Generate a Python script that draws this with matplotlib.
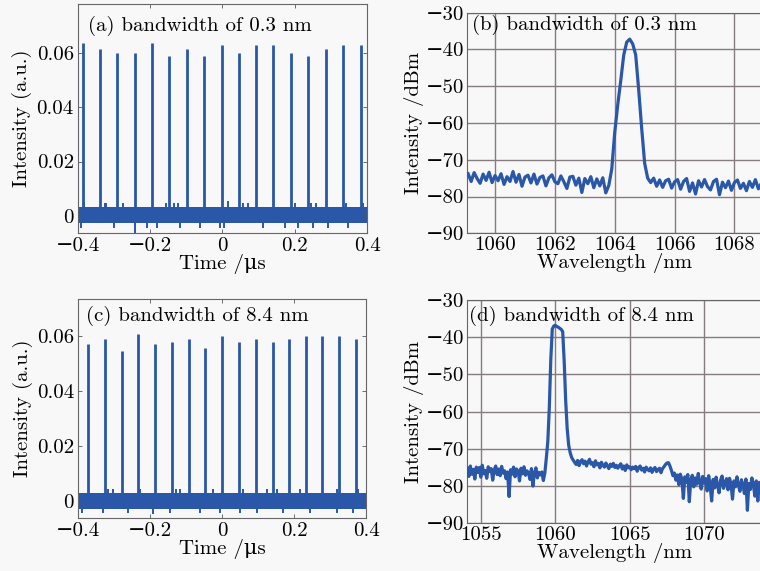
import numpy as np
import matplotlib
matplotlib.use('Agg')
import matplotlib.pyplot as plt

# ---- time traces (pulse trains) ----
# (a) bandwidth 0.3 nm
pulse_t_a = [-0.387, -0.340, -0.292, -0.243, -0.194, -0.147, -0.098, -0.050, -0.002,
             0.045, 0.092, 0.140, 0.189, 0.237, 0.286, 0.334, 0.382]
pulse_h_a = [0.0638, 0.0615, 0.0600, 0.0600, 0.0638, 0.0588, 0.0615, 0.0588, 0.0628,
             0.0598, 0.0628, 0.0628, 0.0600, 0.0588, 0.0615, 0.0628, 0.0628]
noise_band_a = [-0.0025, 0.0034]
spike_up_t_a = [-0.384, -0.326, -0.322, -0.276, -0.156, -0.134, -0.122, 0.014, 0.057,
                0.071, 0.200, 0.246, 0.258, 0.343, 0.389]
spike_up_h_a = [0.0050, 0.0048, 0.0047, 0.0048, 0.0047, 0.0048, 0.0046, 0.0056, 0.0048,
                0.0046, 0.0048, 0.0047, 0.0049, 0.0047, 0.0048]
spike_dn_t_a = [-0.391, -0.301, -0.243, -0.209, -0.182, -0.117, -0.062, -0.007, 0.004,
                0.113, 0.173, 0.209, 0.251, 0.292, 0.348]
spike_dn_h_a = [-0.0045, -0.0044, -0.0064, -0.0044, -0.0045, -0.0046, -0.0044, -0.0045,
                -0.0043, -0.0044, -0.0045, -0.0044, -0.0046, -0.0044, -0.0045]

# (c) bandwidth 8.4 nm
pulse_t_c = [-0.372, -0.326, -0.279, -0.233, -0.186, -0.140, -0.093, -0.047, 0.000,
             0.047, 0.093, 0.140, 0.186, 0.233, 0.279, 0.326, 0.372]
pulse_h_c = [0.0569, 0.0590, 0.0546, 0.0607, 0.0569, 0.0578, 0.0590, 0.0556, 0.0600,
             0.0578, 0.0590, 0.0578, 0.0590, 0.0598, 0.0598, 0.0598, 0.0590]
noise_band_c = [-0.0030, 0.0028]
spike_up_t_c = [-0.317, -0.303, -0.228, -0.128, -0.117, -0.025, 0.059, 0.124, 0.152,
                0.217, 0.319, 0.379]
spike_up_h_c = [0.0044, 0.0042, 0.0045, 0.0043, 0.0044, 0.0042, 0.0045, 0.0043, 0.0044,
                0.0042, 0.0045, 0.0044]
spike_dn_t_c = [-0.391, -0.330, -0.261, -0.191, -0.145, -0.062, -0.006, 0.050, 0.096,
                0.170, 0.244, 0.319, 0.365]
spike_dn_h_c = [-0.0043, -0.0045, -0.0044, -0.0046, -0.0043, -0.0044, -0.0045, -0.0043,
                -0.0044, -0.0045, -0.0043, -0.0044, -0.0043]

# ---- optical spectra ----
# (b) 0.1 nm step, 1059.1 ... 1068.9 nm
wl_b_range = [1059.1, 1068.9]
spec_b = [
    -73.8, -75.9, -73.5, -75.1, -76.4, -73.9, -75.6, -73.4, -76.2, -74.3,
    -75.7, -73.8, -76.7, -74.6, -75.9, -73.2, -76.1, -74.0, -77.2, -74.7,
    -74.2, -76.3, -73.9, -76.6, -74.8, -74.4, -77.1, -74.9, -74.1, -76.0,
    -76.5, -74.4, -76.0, -77.8, -74.7, -74.5, -76.9, -75.0, -78.9, -75.1,
    -76.5, -74.6, -77.6, -75.2, -77.1, -74.9,
    -79.0, -77.0, -72.5, -62.5, -55.0, -48.5, -41.5, -38.0, -37.2, -38.5,
    -41.5, -51.0, -61.5, -71.0, -75.0, -76.2,
    -75.0, -77.2, -75.5, -77.5, -75.7, -75.3, -77.7, -76.0,
    -75.4, -78.0, -75.9, -75.1, -78.6, -76.3, -79.3, -75.7, -77.4, -75.4,
    -77.3, -78.2, -75.9, -75.3, -79.5, -76.1, -77.6, -75.8, -78.3, -76.2,
    -75.5, -77.8, -76.4, -78.4, -75.9, -77.5, -75.4, -77.9, -76.4,
]

# (d) 0.1 nm step, 1054.1 ... 1073.9 nm
wl_d_range = [1054.1, 1073.9]
spec_d = [
    -75.2, -77.4, -74.6, -76.8, -75.5, -78.1, -74.9, -76.3, -75.0, -77.6,
    -74.4, -76.7, -75.8, -77.9, -74.8, -76.1, -75.3, -78.4, -75.7, -74.6,
    -76.9, -75.4, -77.2, -74.7, -76.5, -75.9, -78.0, -76.2, -82.8, -75.6,
    -76.8, -74.9, -77.5, -75.4, -76.0, -78.6, -75.2, -76.7, -74.8, -77.1,
    -75.9, -76.4, -78.2, -75.3, -80.0, -76.6, -75.1, -77.8, -76.3, -77.0,
    -76.2,
    -78.5, -76.5, -72.5, -68.0, -59.0, -46.0, -37.8, -37.0, -36.8, -37.1,
    -37.3, -37.6, -37.9, -38.5, -46.5, -57.0, -64.5, -69.0, -71.0, -72.3,
    -73.0,
    -73.6, -74.2, -73.1, -74.5, -73.4, -72.9, -74.0, -73.3, -74.6, -73.5,
    -72.8, -74.1, -73.7, -74.8, -73.2, -74.3, -73.9, -75.1, -73.6, -74.4,
    -74.9, -73.8, -74.6, -75.3, -74.1, -74.7, -73.9, -75.0, -74.4, -75.2,
    -74.5, -74.0, -75.4, -74.6, -75.8, -74.3, -75.1, -74.8, -75.6, -74.9,
    -75.3, -74.7, -76.0, -75.0, -74.6, -75.7, -75.2, -76.2, -74.9, -75.5,
    -75.9, -75.1, -76.3, -75.4, -75.0, -76.1, -75.6, -75.2, -76.4, -75.3,
    -74.8, -74.2, -73.8,
    -73.7, -74.6, -75.8, -77.2, -76.5, -78.4, -77.0, -79.6, -76.8, -78.1,
    -83.3, -77.5, -79.0, -76.9, -84.2, -78.3, -77.1, -80.2, -77.8, -79.5,
    -76.6, -78.9, -80.8, -77.4, -79.2, -78.0, -81.3, -77.2, -79.7, -84.0,
    -78.2, -80.5, -77.6, -79.9, -81.8, -78.4, -77.3, -80.6, -79.1, -78.0,
    -81.0, -77.9, -79.4, -83.5, -78.6, -80.2, -77.5, -79.8, -81.4, -78.3,
    -79.6, -82.0, -78.1, -86.5, -79.3, -80.9, -77.8, -79.5, -82.7, -78.6,
    -84.0, -79.0, -80.5, -78.2,
]

time_ticks = [-0.4, -0.2, 0, 0.2, 0.4]
time_ticklabels = ['\u22120.4', '\u22120.2', '0', '0.2', '0.4']
int_ticks = [0, 0.02, 0.04, 0.06]
int_ticklabels = ['0', '0.02', '0.04', '0.06']
dbm_ticks = [-90, -80, -70, -60, -50, -40, -30]
dbm_ticklabels = ['\u221290', '\u221280', '\u221270', '\u221260', '\u221250', '\u221240', '\u221230']
wl_ticks_b = [1060, 1062, 1064, 1066, 1068]
wl_ticks_d = [1055, 1060, 1065, 1070]

titles = ['(a) bandwidth of 0.3 nm', '(b) bandwidth of 0.3 nm',
          '(c) bandwidth of 8.4 nm', '(d) bandwidth of 8.4 nm']

blue = '#2a57a7'
bg = '#f8f8f8'
plt.rcParams['font.family'] = ['cmr10', 'DejaVu Serif']
plt.rcParams['mathtext.fontset'] = 'cm'
plt.rcParams['axes.unicode_minus'] = True
fs = 15

fig = plt.figure(figsize=(7.6, 5.71), dpi=100, facecolor=bg)
ax_a = fig.add_axes([0.1026, 0.592, 0.3803, 0.401])
ax_b = fig.add_axes([0.614, 0.5914, 0.389, 0.3864])
ax_c = fig.add_axes([0.103, 0.0928, 0.3786, 0.3836])
ax_d = fig.add_axes([0.614, 0.0835, 0.389, 0.3911])


def time_panel(ax, pt, ph, band, ut, uh, dt, dh, ylim, title, tpos):
    ax.set_facecolor(bg)
    ax.fill_between(time_ticks[::4], [band[0]] * 2, [band[1]] * 2, color=blue, lw=0)
    ax.vlines(ut, 0, uh, color=blue, lw=1.4)
    ax.vlines(dt, dh, 0, color=blue, lw=1.4)
    ax.vlines(pt, 0, ph, color=blue, lw=2.0)
    ax.set_xlim(-0.4, 0.4)
    ax.set_ylim(*ylim)
    ax.set_xticks(time_ticks)
    ax.set_xticklabels(time_ticklabels)
    ax.set_yticks(int_ticks)
    ax.set_yticklabels(int_ticklabels)
    ax.tick_params(direction='in', length=3, width=0.6, top=True, right=True,
                   labelsize=fs, pad=3, color='#555555')
    ax.set_xlabel('Time /\u03bcs', fontsize=fs, labelpad=-1)
    ax.set_ylabel('Intensity (a.u.)', fontsize=fs, labelpad=3)
    for s in ax.spines.values():
        s.set_color('#666666')
        s.set_linewidth(0.8)
    ax.text(tpos[0], tpos[1], title, transform=ax.transAxes, fontsize=fs,
            va='center', ha='left')


def spec_panel(ax, wr, spec, xlim, xticks, title, tpos):
    ax.set_facecolor(bg)
    wl = np.linspace(wr[0], wr[1], len(spec))
    ax.plot(wl, spec, color=blue, lw=2.3, zorder=3)
    ax.set_xlim(*xlim)
    ax.set_ylim(-90, -30)
    ax.set_xticks(xticks)
    ax.set_xticklabels([str(v) for v in xticks])
    ax.set_yticks(dbm_ticks)
    ax.set_yticklabels(dbm_ticklabels)
    ax.grid(True, color='#857d7d', lw=1.0)
    ax.tick_params(length=0, labelsize=fs, pad=2)
    ax.set_xlabel('Wavelength /nm', fontsize=fs, labelpad=-1)
    ax.set_ylabel('Intensity /dBm', fontsize=fs, labelpad=1)
    for s in ax.spines.values():
        s.set_color('#666666')
        s.set_linewidth(0.8)
    ax.text(tpos[0], tpos[1], title, transform=ax.transAxes, fontsize=fs,
            va='center', ha='left', zorder=4)


time_panel(ax_a, pulse_t_a, pulse_h_a, noise_band_a, spike_up_t_a, spike_up_h_a,
           spike_dn_t_a, spike_dn_h_a, (-0.0063, 0.078), titles[0], (0.035, 0.905))
time_panel(ax_c, pulse_t_c, pulse_h_c, noise_band_c, spike_up_t_c, spike_up_h_c,
           spike_dn_t_c, spike_dn_h_c, (-0.0062, 0.0734), titles[2], (0.027, 0.922))
spec_panel(ax_b, wl_b_range, spec_b, (1059.05, 1068.93), wl_ticks_b, titles[1], (0.017, 0.944))
spec_panel(ax_d, wl_d_range, spec_d, (1054.05, 1073.9), wl_ticks_d, titles[3], (0.009, 0.93))

fig.savefig('out.png', dpi=100, facecolor=bg)
